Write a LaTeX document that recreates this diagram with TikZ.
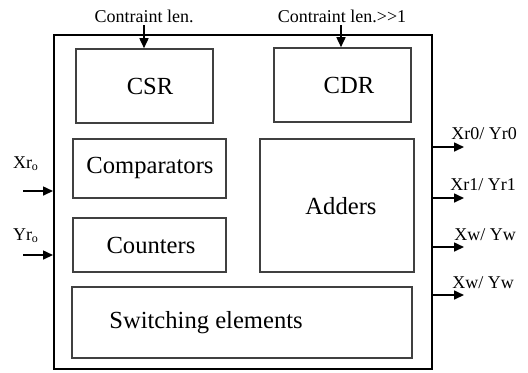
\documentclass[tikz,border=0pt]{standalone}
\usepackage{fontspec}
\setmainfont{Liberation Serif}[Ligatures=NoCommon]
\usetikzlibrary{arrows.meta,fit}
\begin{document}
\begin{tikzpicture}[x=0.5pt,y=-0.5pt,
  outerbox/.style={draw=black,line width=1pt,inner sep=0pt},
  blockbox/.style={draw=black!75,line width=0.8pt,inner sep=0pt},
  bigtxt/.style={font=\fontsize{12.3}{14}\selectfont,inner sep=0pt},
  smalltxt/.style={font=\fontsize{9}{11}\selectfont,inner sep=0pt},
  arr/.style={line width=0.8pt,-{Triangle[length=5pt,width=4.5pt]}}]
\useasboundingbox (0,0) rectangle (528,372);

% enclosing unit
\node[outerbox,fit={(54,35) (432,369)}] (unit) {};

% internal blocks
\node[blockbox,fit={(76,49) (213,123)}] (csr) {};
\node[blockbox,fit={(274,48) (411,122)}] (cdr) {};
\node[blockbox,fit={(73,139) (226,198)}] (cmp) {};
\node[blockbox,fit={(73,218) (226,272)}] (cnt) {};
\node[blockbox,fit={(260,139) (414,272)}] (add) {};
\node[blockbox,fit={(72,287) (412,358)}] (sw) {};

% block labels
\node[bigtxt] (tcsr) at (150,86) {CSR};
\node[bigtxt] (tcdr) at (349,85) {CDR};
\node[bigtxt] (tcmp) at (150,168) {Comparators};
\node[bigtxt] (tcnt) at (151,245) {Counters};
\node[bigtxt] (tadd) at (341,206) {Adders};
\node[bigtxt] (tsw) at (206,323) {Switching elements};

% constraint length inputs
\node[smalltxt,anchor=base] (lcsr) at (144,22) {Contraint len.};
\node[smalltxt,anchor=base] (lcdr) at (342,22) {Contraint len.{>}{>}1};
\coordinate (pcsr) at (144,25);
\coordinate (pcdr) at (341,25);
\draw[arr] (pcsr) -- (pcsr |- csr.north);
\draw[arr] (pcdr) -- (pcdr |- cdr.north);

% left inputs
\node[smalltxt,anchor=base] (lx) at (26,168) {Xr\textsubscript{o}};
\node[smalltxt,anchor=base] (ly) at (26,240) {Yr\textsubscript{o}};
\coordinate (ix) at (23,191);
\coordinate (iy) at (23,255);
\draw[arr] (ix) -- (ix -| unit.west);
\draw[arr] (iy) -- (iy -| unit.west);

% right outputs
\coordinate (o1) at (464,147);
\coordinate (o2) at (464,198);
\coordinate (o3) at (464,247);
\coordinate (o4) at (464,295);
\draw[arr] (o1 -| unit.east) -- (o1);
\draw[arr] (o2 -| unit.east) -- (o2);
\draw[arr] (o3 -| unit.east) -- (o3);
\draw[arr] (o4 -| unit.east) -- (o4);
\node[smalltxt,anchor=base] (l1) at (484,139) {Xr0/ Yr0};
\node[smalltxt,anchor=base] (l2) at (483,190) {Xr1/ Yr1};
\node[smalltxt,anchor=base] (l3) at (485,240) {Xw/ Yw};
\node[smalltxt,anchor=base] (l4) at (483,288) {Xw/ Yw};
\end{tikzpicture}
\end{document}
